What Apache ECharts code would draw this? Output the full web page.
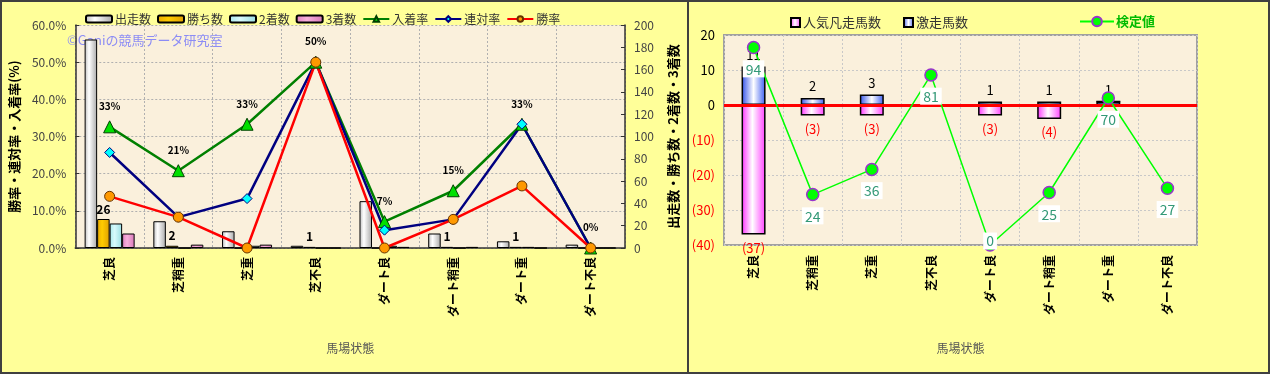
<!DOCTYPE html>
<html>
<head>
<meta charset="utf-8">
<script src="https://cdn.jsdelivr.net/npm/echarts@6/dist/echarts.min.js"></script>
<style>
html,body{margin:0;padding:0;background:#FFFF99;}
#wrap{position:relative;width:1270px;height:374px;overflow:hidden;}
#c1{position:absolute;left:0;top:0;width:688px;height:374px;}
#c2{position:absolute;left:688px;top:0;width:582px;height:374px;}
#frame{position:absolute;left:0;top:0;width:1270px;height:374px;box-sizing:border-box;border:2px solid #404040;pointer-events:none;}
#divider{position:absolute;left:687px;top:0;width:2px;height:374px;background:#404040;pointer-events:none;}
</style>
</head>
<body>
<div id="wrap">
  <div id="c1"></div>
  <div id="c2"></div>
  <div id="frame"></div>
  <div id="divider"></div>
</div>
<script>
// ---- data ----
const categories = ['芝良','芝稍重','芝重','芝不良','ダート良','ダート稍重','ダート重','ダート不良'];
const runners = [187, 24, 15, 2, 42, 13, 6, 3];       // 出走数
const wins = [26, 2, 0, 1, 0, 1, 1, 0];               // 勝ち数
const seconds = [22, 0, 2, 0, 2, 0, 1, 0];            // 2着数
const thirds = [13, 3, 3, 0, 1, 1, 0, 0];             // 3着数
const placeRate = [32.6, 20.8, 33.3, 50, 7.1, 15.4, 33.3, 0];    // 入着率 (%)
const quinellaRate = [25.7, 8.3, 13.3, 50, 4.8, 7.7, 33.3, 0];   // 連対率 (%)
const winRate = [13.9, 8.3, 0, 50, 0, 7.7, 16.7, 0];             // 勝率 (%)
const rateTicks = [0, 10, 20, 30, 40, 50, 60];
const countTicks = [0, 20, 40, 60, 80, 100, 120, 140, 160, 180, 200];

const upsetCounts = [11, 2, 3, 0, 1, 1, 1, 0];        // 激走馬数
const flopCounts = [-37, -3, -3, 0, -3, -4, 0, 0];    // 人気凡走馬数
const testValues = [94, 24, 36, 81, 0, 25, 70, 27];   // 検定値
const diffTicks = [-40, -30, -20, -10, 0, 10, 20];

const FONT = '"Noto Sans CJK JP", sans-serif';
const PLOT_BG = '#FAF0DC';

function hGrad(stops){
  return new echarts.graphic.LinearGradient(0,0,1,0, stops.map((c,i)=>({offset:c[0], color:c[1]})));
}

// ---- left chart ----
const c1 = echarts.init(document.getElementById('c1'), null, {renderer:'canvas'});
c1.setOption({
  backgroundColor: '#FFFF99',
  textStyle: {fontFamily: FONT},
  animation: false,
  legend: {
    left: 80, top: 8, itemGap: 6, itemWidth: 26, itemHeight: 7,
    textStyle: {fontSize: 12, color: '#333', fontFamily: FONT, padding: [0,0,0,-2]},
    data: ['出走数','勝ち数','2着数','3着数','入着率','連対率','勝率']
  },
  graphic: [{
    type: 'text', left: 67, top: 34, silent: true,
    style: {text: '©Ganiの競馬データ研究室', fill: '#8C8CF5', font: '13px ' + FONT}
  }],
  grid: {left: 67, right: 62, top: 25, bottom: 126, show: true, backgroundColor: PLOT_BG, borderWidth: 0},
  xAxis: {
    type: 'category', data: categories,
    axisLine: {lineStyle: {color: '#333', width: 1.5}},
    axisTick: {show: false},
    splitLine: {show: true, lineStyle: {color: '#b0b0b0', type: [2,2], width: 1}},
    axisLabel: {rotate: 90, margin: 9, fontSize: 12, fontWeight: 'bold', color: '#000', fontFamily: FONT},
    name: '馬場状態', nameLocation: 'middle', nameGap: 94,
    nameTextStyle: {fontSize: 12, color: '#555', fontFamily: FONT}
  },
  yAxis: [{
    type: 'value', min: rateTicks[0], max: rateTicks[rateTicks.length-1], interval: 10, position: 'left',
    axisLine: {show: true, lineStyle: {color: '#333', width: 1.5}},
    axisTick: {show: true, inside: true, length: 4, lineStyle: {color: '#333'}},
    splitLine: {show: true, lineStyle: {color: '#b0b0b0', type: [2,2], width: 1}},
    axisLabel: {formatter: v => v.toFixed(1) + '%', fontSize: 12, color: '#444', margin: 9, fontFamily: FONT},
    name: '勝率・連対率・入着率(%)', nameLocation: 'middle', nameGap: 47, nameRotate: 90,
    nameTextStyle: {fontSize: 13, fontWeight: 'bold', color: '#000', fontFamily: FONT}
  },{
    type: 'value', min: countTicks[0], max: countTicks[countTicks.length-1], interval: 20, position: 'right',
    axisLine: {show: true, lineStyle: {color: '#333', width: 1.5}},
    axisTick: {show: true, inside: true, length: 4, lineStyle: {color: '#333'}},
    splitLine: {show: false},
    axisLabel: {fontSize: 12, color: '#444', margin: 9, fontFamily: FONT},
    name: '出走数・勝ち数・2着数・3着数', nameLocation: 'middle', nameGap: 42, nameRotate: 90,
    nameTextStyle: {fontSize: 13, fontWeight: 'bold', color: '#000', fontFamily: FONT}
  }],
  series: [
    {name: '出走数', type: 'bar', yAxisIndex: 1, data: runners, barWidth: 12.5, barGap: '0%',
      itemStyle: {color: hGrad([[0,'#bdbdbd'],[0.35,'#ffffff'],[1,'#a8a8a8']]), borderColor: '#000', borderWidth: 1}},
    {name: '勝ち数', type: 'bar', yAxisIndex: 1, data: wins, barWidth: 12.5, barGap: '0%',
      itemStyle: {color: hGrad([[0,'#e8a800'],[0.4,'#ffcc00'],[1,'#e0a000']]), borderColor: '#000', borderWidth: 1},
      label: {show: true, position: 'top', distance: 4, fontSize: 12, fontWeight: 'bold', color: '#000',
        formatter: p => p.value > 0 ? p.value : ''}},
    {name: '2着数', type: 'bar', yAxisIndex: 1, data: seconds, barWidth: 12.5, barGap: '0%',
      itemStyle: {color: hGrad([[0,'#a8e8ec'],[0.4,'#d8fafc'],[1,'#98dde2']]), borderColor: '#000', borderWidth: 1}},
    {name: '3着数', type: 'bar', yAxisIndex: 1, data: thirds, barWidth: 12.5, barGap: '0%',
      itemStyle: {color: hGrad([[0,'#e080c0'],[0.4,'#f8b0dc'],[1,'#d878b8']]), borderColor: '#000', borderWidth: 1}},
    {name: '入着率', type: 'line', yAxisIndex: 0, data: placeRate,
      lineStyle: {color: '#008000', width: 2.5}, symbol: 'triangle', symbolSize: 12,
      itemStyle: {color: '#00e000', borderColor: '#004000', borderWidth: 1},
      label: {show: true, position: 'top', distance: 9, fontSize: 10, fontWeight: 'bold', color: '#000',
        formatter: p => Math.round(p.value) + '%'}},
    {name: '連対率', type: 'line', yAxisIndex: 0, data: quinellaRate,
      lineStyle: {color: '#000080', width: 2.5}, symbol: 'diamond', symbolSize: 10,
      itemStyle: {color: '#00ffff', borderColor: '#000080', borderWidth: 1}},
    {name: '勝率', type: 'line', yAxisIndex: 0, data: winRate,
      lineStyle: {color: '#ff0000', width: 2.5}, symbol: 'circle', symbolSize: 10,
      itemStyle: {color: '#ff9900', borderColor: '#663300', borderWidth: 1}}
  ]
});

// ---- right chart ----
const c2 = echarts.init(document.getElementById('c2'), null, {renderer:'canvas'});
c2.setOption({
  backgroundColor: '#FFFF99',
  textStyle: {fontFamily: FONT},
  animation: false,
  legend: [{
    left: 97, top: 11, itemGap: 22, itemWidth: 9, itemHeight: 9, icon: 'rect',
    textStyle: {fontSize: 13, color: '#333', fontFamily: FONT, padding: [0,0,0,-2]},
    data: ['人気凡走馬数','激走馬数']
  },{
    left: 386, top: 10, itemWidth: 34, itemHeight: 12,
    textStyle: {fontSize: 13, color: '#00bb00', fontWeight: 'bold', fontFamily: FONT, padding: [0,0,0,-3]},
    data: ['検定値']
  }],
  grid: {left: 36, right: 73, top: 35, bottom: 129, show: true, backgroundColor: PLOT_BG, borderColor: '#a0a0a0', borderWidth: 2},
  xAxis: {
    type: 'category', data: categories,
    axisLine: {lineStyle: {color: '#a0a0a0', width: 2}},
    axisTick: {show: false},
    splitLine: {show: true, lineStyle: {color: '#c8c8c8', type: [2,2], width: 1}},
    axisLabel: {rotate: 90, margin: 10, fontSize: 12, fontWeight: 'bold', color: '#000', fontFamily: FONT},
    name: '馬場状態', nameLocation: 'middle', nameGap: 97,
    nameTextStyle: {fontSize: 12, color: '#555', fontFamily: FONT}
  },
  yAxis: [{
    type: 'value', min: diffTicks[0], max: diffTicks[diffTicks.length-1], interval: 10,
    axisLine: {show: false}, axisTick: {show: false},
    splitLine: {show: true, lineStyle: {color: '#c8c8c8', type: [2,2], width: 1}},
    axisLabel: {fontSize: 13, margin: 9, fontFamily: FONT,
      formatter: v => v < 0 ? '(' + (-v) + ')' : String(v),
      color: v => (Number(v) < 0 ? '#ff0000' : '#000')}
  },{
    type: 'value', min: 0, max: 100, show: false
  }],
  series: [
    {name: '激走馬数', type: 'bar', stack: 'cnt', data: upsetCounts, barWidth: 24,
      itemStyle: {color: hGrad([[0,'#3050e8'],[0.5,'#ffffff'],[1,'#3a5cf0']]), borderColor: '#000', borderWidth: 1.5},
      label: {show: true, position: 'top', distance: 5, fontSize: 13, color: '#000',
        formatter: p => p.value > 0 ? p.value : ''}},
    {name: '人気凡走馬数', type: 'bar', stack: 'cnt', data: flopCounts, barWidth: 24,
      itemStyle: {color: hGrad([[0,'#ff30ff'],[0.45,'#ffffff'],[1,'#ff40ff']]), borderColor: '#000', borderWidth: 1.5},
      label: {show: true, position: 'bottom', distance: 7, fontSize: 13, color: '#ff0000',
        formatter: p => p.value < 0 ? '(' + (-p.value) + ')' : ''},
      markLine: {silent: true, symbol: 'none', label: {show: false},
        lineStyle: {color: '#ff0000', width: 3, type: 'solid'}, data: [{yAxis: 0}]}},
    {name: '検定値', type: 'line', yAxisIndex: 1, z: 5,
      data: testValues.map(v => v === 0 ? {value: v, label: {position: 'inside', offset: [0, -4]}} : v),
      lineStyle: {color: '#00ff00', width: 1.5}, symbol: 'circle', symbolSize: 12,
      itemStyle: {color: '#00ff00', borderColor: '#9933cc', borderWidth: 1.5},
      label: {show: true, position: 'bottom', distance: 6, fontSize: 14, color: '#339977',
        backgroundColor: '#ffffff', padding: [2, 3, 1, 3]}}
  ]
});
</script>
</body>
</html>
